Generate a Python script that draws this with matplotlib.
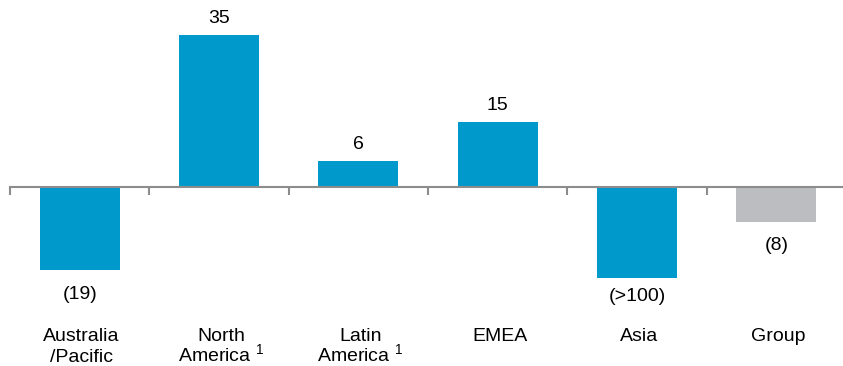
import numpy as np
import matplotlib.pyplot as plt

plt.rcParams['font.family'] = ['Liberation Sans', 'DejaVu Sans']
plt.rcParams['mathtext.fontset'] = 'custom'
plt.rcParams['mathtext.rm'] = 'Liberation Sans'

line1 = ['Australia', 'North', 'Latin', 'EMEA', 'Asia', 'Group']
line2 = ['/Pacific', 'America $^{\\mathregular{1}}$', 'America $^{\\mathregular{1}}$', '', '', '']
values = [-19.2, 35, 6, 15, -20.9, -8]   # Asia is capped, shown as (>100)
value_labels = ['(19)', '35', '6', '15', '(>100)', '(8)']
colors = ['#0099cc'] * 5 + ['#bcbdc0']

fig = plt.figure(figsize=(8.43, 3.66), dpi=100)
ax = fig.add_axes([10 / 843, 0.1923, 836 / 843, 0.7714])

x = np.arange(len(values))
ax.bar(x, values, width=0.575, color=colors, zorder=2)

ax.set_xlim(-0.5, 5.5)
ax.set_ylim(-25, 40)

# zero line with tick marks between the categories
for s in ['top', 'right', 'left']:
    ax.spines[s].set_visible(False)
ax.spines['bottom'].set_position(('data', 0))
ax.spines['bottom'].set_color('#8c8c8c')
ax.spines['bottom'].set_linewidth(1.5)
ax.spines['bottom'].set_zorder(3)
ax.set_xticks(np.arange(-0.5, 5.5, 1.0))
ax.set_xticklabels([])
ax.tick_params(axis='x', direction='out', length=6, width=1.5, color='#8c8c8c')
ax.set_yticks([])

# value labels; the Asia bar is truncated so its label sits closer
for i, (xi, v, lab) in enumerate(zip(x, values, value_labels)):
    if v >= 0:
        dy = 8.3
    elif lab.startswith('(>'):
        dy = -16.5
    else:
        dy = -20.5
    ax.annotate(lab, (xi, v), xytext=(0, dy), textcoords='offset points',
                ha='center', va='baseline', fontsize=14)

for xi, a, b in zip(x, line1, line2):
    fig.text((10 + (xi + 0.5) * 836 / 6 + 2) / 843, 25 / 366, a,
             ha='center', va='baseline', fontsize=14)
    if b:
        fig.text((10 + (xi + 0.5) * 836 / 6 + 2) / 843, 4 / 366, b,
                 ha='center', va='baseline', fontsize=14)

fig.savefig('out.png', dpi=100)
